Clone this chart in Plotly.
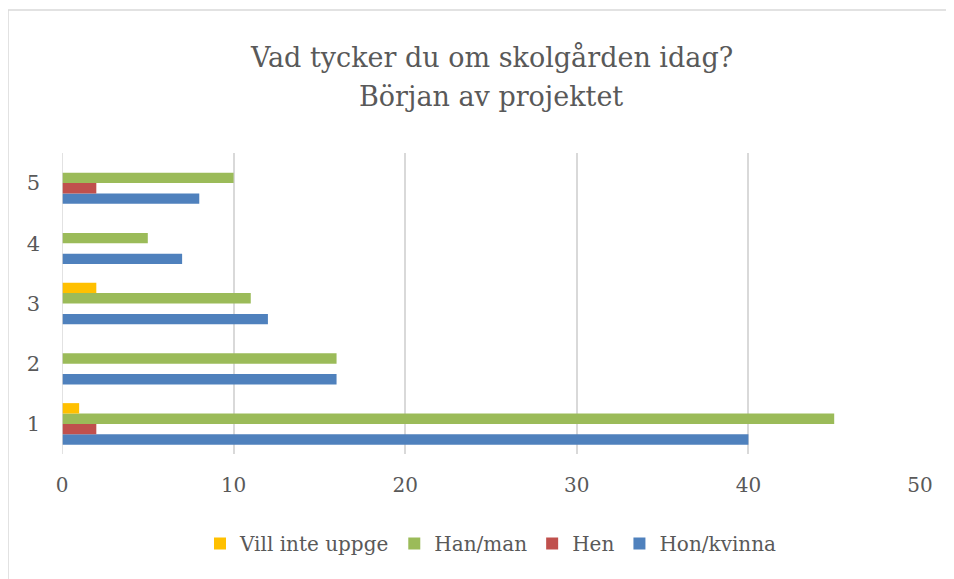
import plotly.graph_objects as go

categories = ["1", "2", "3", "4", "5"]
hon_kvinna = [40, 16, 12, 7, 8]
hen = [2, 0, 0, 0, 2]
han_man = [45, 16, 11, 5, 10]
vill_inte = [1, 0, 2, 0, 0]

title_lines = ["Vad tycker du om skolgården idag?", "Början av projektet"]

series = [
    ("Hon/kvinna", hon_kvinna, "#4f81bd"),
    ("Hen", hen, "#c0504d"),
    ("Han/man", han_man, "#9bbb59"),
    ("Vill inte uppge", vill_inte, "#ffc000"),
]

FONT = "DejaVu Serif"
GRAY = "#595959"

fig = go.Figure()
for name, vals, col in series:
    fig.add_trace(go.Bar(
        y=categories, x=vals, name=name, orientation="h",
        marker=dict(color=col, line=dict(width=0)),
    ))

W, H = 954, 579
ml, mt, pw, ph = 54, 145, 858, 301
mr, mb = W - ml - pw, H - mt - ph

def py(fig_y):
    return 1 - (fig_y - mt) / ph

def px(fig_x):
    return (fig_x - ml) / pw

fig.update_layout(
    width=W, height=H,
    barmode="group", bargap=0.31, bargroupgap=0,
    paper_bgcolor="white", plot_bgcolor="white",
    margin=dict(l=ml, r=mr, t=mt, b=mb, autoexpand=False),
    font=dict(family=FONT, color=GRAY),
    xaxis=dict(
        range=[0, 50], dtick=10, showgrid=True, gridcolor="#d9d9d9", gridwidth=1.5,
        zeroline=False, showline=False, ticks="", automargin=False,
        tickfont=dict(family=FONT, size=20, color=GRAY),
        ticklabelstandoff=17,
    ),
    yaxis=dict(
        type="category", range=[-0.5, 4.5],
        showgrid=False, zeroline=False, showline=False, ticks="", automargin=False,
        tickfont=dict(family=FONT, size=21, color=GRAY),
        ticklabelstandoff=21,
    ),
    legend=dict(
        orientation="h", x=0.5, xanchor="center", y=py(516), yanchor="top",
        traceorder="reversed", font=dict(family=FONT, size=20, color=GRAY),
    ),
    annotations=[
        dict(text=title_lines[0], xref="paper", yref="paper", x=0.5, y=py(49),
             xanchor="center", yanchor="middle", showarrow=False,
             font=dict(family=FONT, size=27, color=GRAY)),
        dict(text=title_lines[1], xref="paper", yref="paper", x=0.5, y=py(88),
             xanchor="center", yanchor="middle", showarrow=False,
             font=dict(family=FONT, size=27, color=GRAY)),
    ],
    shapes=[
        dict(type="line", xref="x", yref="paper", x0=0, x1=0, y0=0, y1=1,
             line=dict(color="#d9d9d9", width=1.5)),
        dict(type="rect", xref="paper", yref="paper",
             x0=px(0), x1=px(W + 20), y0=py(H + 20), y1=py(2),
             line=dict(color="#d9d9d9", width=1.5)),
    ],
)

fig.write_html("out.html")
